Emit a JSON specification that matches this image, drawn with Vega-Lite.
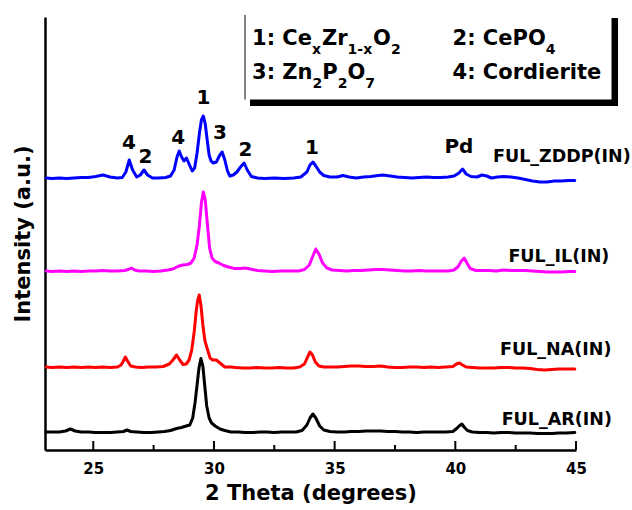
{
  "$schema": "https://vega.github.io/schema/vega-lite/v6.json",
  "width": 531,
  "height": 433,
  "autosize": "none",
  "padding": {"left": 45, "top": 17, "right": 56, "bottom": 60},
  "background": "white",
  "config": {"view": {"stroke": null}},
  "datasets": {
    "xrd": [
      {"s":"ZDDP","x":23.05,"y":272},{"s":"ZDDP","x":23.3,"y":271.5},{"s":"ZDDP","x":23.6,"y":272},{"s":"ZDDP","x":23.9,"y":271.5},{"s":"ZDDP","x":24.2,"y":272},{"s":"ZDDP","x":24.5,"y":272.5},{"s":"ZDDP","x":24.8,"y":272.5},{"s":"ZDDP","x":25.1,"y":273.5},{"s":"ZDDP","x":25.4,"y":275},{"s":"ZDDP","x":25.7,"y":273},{"s":"ZDDP","x":26.0,"y":272},{"s":"ZDDP","x":26.2,"y":272.5},{"s":"ZDDP","x":26.35,"y":278},{"s":"ZDDP","x":26.49,"y":290},{"s":"ZDDP","x":26.63,"y":280},{"s":"ZDDP","x":26.8,"y":273},{"s":"ZDDP","x":26.95,"y":275},{"s":"ZDDP","x":27.1,"y":280},{"s":"ZDDP","x":27.25,"y":275},{"s":"ZDDP","x":27.45,"y":272},{"s":"ZDDP","x":27.7,"y":272},{"s":"ZDDP","x":28.0,"y":272.5},{"s":"ZDDP","x":28.2,"y":274},{"s":"ZDDP","x":28.35,"y":280},{"s":"ZDDP","x":28.47,"y":293},{"s":"ZDDP","x":28.56,"y":299},{"s":"ZDDP","x":28.66,"y":293},{"s":"ZDDP","x":28.76,"y":289},{"s":"ZDDP","x":28.86,"y":292},{"s":"ZDDP","x":28.97,"y":286},{"s":"ZDDP","x":29.1,"y":279},{"s":"ZDDP","x":29.2,"y":282},{"s":"ZDDP","x":29.3,"y":297},{"s":"ZDDP","x":29.4,"y":317},{"s":"ZDDP","x":29.48,"y":330},{"s":"ZDDP","x":29.56,"y":334},{"s":"ZDDP","x":29.64,"y":326},{"s":"ZDDP","x":29.72,"y":310},{"s":"ZDDP","x":29.8,"y":295},{"s":"ZDDP","x":29.88,"y":289},{"s":"ZDDP","x":29.98,"y":287},{"s":"ZDDP","x":30.1,"y":288},{"s":"ZDDP","x":30.22,"y":294},{"s":"ZDDP","x":30.34,"y":298},{"s":"ZDDP","x":30.45,"y":290},{"s":"ZDDP","x":30.56,"y":279},{"s":"ZDDP","x":30.66,"y":274},{"s":"ZDDP","x":30.8,"y":275},{"s":"ZDDP","x":30.95,"y":278},{"s":"ZDDP","x":31.1,"y":283},{"s":"ZDDP","x":31.25,"y":287},{"s":"ZDDP","x":31.38,"y":280},{"s":"ZDDP","x":31.55,"y":273.5},{"s":"ZDDP","x":31.8,"y":272},{"s":"ZDDP","x":32.1,"y":271.5},{"s":"ZDDP","x":32.5,"y":272},{"s":"ZDDP","x":32.9,"y":271.5},{"s":"ZDDP","x":33.3,"y":272},{"s":"ZDDP","x":33.6,"y":273},{"s":"ZDDP","x":33.85,"y":278},{"s":"ZDDP","x":33.98,"y":285},{"s":"ZDDP","x":34.1,"y":288},{"s":"ZDDP","x":34.22,"y":284},{"s":"ZDDP","x":34.38,"y":278},{"s":"ZDDP","x":34.55,"y":274.5},{"s":"ZDDP","x":34.8,"y":273},{"s":"ZDDP","x":35.1,"y":273},{"s":"ZDDP","x":35.35,"y":274.5},{"s":"ZDDP","x":35.6,"y":273},{"s":"ZDDP","x":35.9,"y":272},{"s":"ZDDP","x":36.2,"y":273},{"s":"ZDDP","x":36.5,"y":273.5},{"s":"ZDDP","x":36.8,"y":274.5},{"s":"ZDDP","x":37.0,"y":275},{"s":"ZDDP","x":37.3,"y":274},{"s":"ZDDP","x":37.6,"y":273},{"s":"ZDDP","x":37.9,"y":272.5},{"s":"ZDDP","x":38.2,"y":272},{"s":"ZDDP","x":38.5,"y":272.5},{"s":"ZDDP","x":38.8,"y":273},{"s":"ZDDP","x":39.1,"y":272.5},{"s":"ZDDP","x":39.4,"y":272.5},{"s":"ZDDP","x":39.7,"y":273},{"s":"ZDDP","x":39.95,"y":274},{"s":"ZDDP","x":40.15,"y":277},{"s":"ZDDP","x":40.3,"y":281},{"s":"ZDDP","x":40.45,"y":276},{"s":"ZDDP","x":40.65,"y":273.5},{"s":"ZDDP","x":40.9,"y":273},{"s":"ZDDP","x":41.1,"y":275},{"s":"ZDDP","x":41.3,"y":274},{"s":"ZDDP","x":41.5,"y":272},{"s":"ZDDP","x":41.75,"y":273},{"s":"ZDDP","x":42.0,"y":273.5},{"s":"ZDDP","x":42.3,"y":273},{"s":"ZDDP","x":42.6,"y":272},{"s":"ZDDP","x":42.9,"y":270.5},{"s":"ZDDP","x":43.2,"y":269},{"s":"ZDDP","x":43.5,"y":268},{"s":"ZDDP","x":43.8,"y":268},{"s":"ZDDP","x":44.1,"y":269},{"s":"ZDDP","x":44.4,"y":269},{"s":"ZDDP","x":44.7,"y":269.5},{"s":"ZDDP","x":44.95,"y":269.5},

      {"s":"IL","x":23.05,"y":179},{"s":"IL","x":23.3,"y":178.5},{"s":"IL","x":23.6,"y":179},{"s":"IL","x":23.9,"y":178.5},{"s":"IL","x":24.2,"y":179},{"s":"IL","x":24.5,"y":178.5},{"s":"IL","x":24.8,"y":179},{"s":"IL","x":25.1,"y":179},{"s":"IL","x":25.4,"y":179.5},{"s":"IL","x":25.7,"y":179},{"s":"IL","x":26.0,"y":179},{"s":"IL","x":26.3,"y":179.5},{"s":"IL","x":26.45,"y":180.5},{"s":"IL","x":26.58,"y":182},{"s":"IL","x":26.72,"y":180},{"s":"IL","x":26.9,"y":179},{"s":"IL","x":27.2,"y":179},{"s":"IL","x":27.5,"y":178.5},{"s":"IL","x":27.8,"y":179},{"s":"IL","x":28.1,"y":180},{"s":"IL","x":28.3,"y":181},{"s":"IL","x":28.5,"y":183.5},{"s":"IL","x":28.7,"y":185},{"s":"IL","x":28.9,"y":185.5},{"s":"IL","x":29.05,"y":187},{"s":"IL","x":29.18,"y":192},{"s":"IL","x":29.3,"y":205},{"s":"IL","x":29.4,"y":225},{"s":"IL","x":29.48,"y":247},{"s":"IL","x":29.56,"y":258},{"s":"IL","x":29.64,"y":250},{"s":"IL","x":29.72,"y":228},{"s":"IL","x":29.82,"y":202},{"s":"IL","x":29.92,"y":192},{"s":"IL","x":30.05,"y":188.5},{"s":"IL","x":30.2,"y":187},{"s":"IL","x":30.4,"y":184.5},{"s":"IL","x":30.6,"y":183},{"s":"IL","x":30.85,"y":181.5},{"s":"IL","x":31.1,"y":181.5},{"s":"IL","x":31.3,"y":182},{"s":"IL","x":31.5,"y":181},{"s":"IL","x":31.8,"y":179.5},{"s":"IL","x":32.1,"y":179},{"s":"IL","x":32.4,"y":178.5},{"s":"IL","x":32.8,"y":179},{"s":"IL","x":33.2,"y":179},{"s":"IL","x":33.5,"y":179},{"s":"IL","x":33.75,"y":180.5},{"s":"IL","x":33.95,"y":185},{"s":"IL","x":34.1,"y":194},{"s":"IL","x":34.22,"y":201},{"s":"IL","x":34.35,"y":196},{"s":"IL","x":34.5,"y":187},{"s":"IL","x":34.68,"y":182},{"s":"IL","x":34.9,"y":180},{"s":"IL","x":35.2,"y":179.5},{"s":"IL","x":35.5,"y":179},{"s":"IL","x":35.8,"y":179.5},{"s":"IL","x":36.1,"y":179.5},{"s":"IL","x":36.4,"y":180},{"s":"IL","x":36.7,"y":180.5},{"s":"IL","x":37.0,"y":180.5},{"s":"IL","x":37.3,"y":180},{"s":"IL","x":37.6,"y":179.5},{"s":"IL","x":37.9,"y":179},{"s":"IL","x":38.2,"y":179},{"s":"IL","x":38.5,"y":179.5},{"s":"IL","x":38.8,"y":179},{"s":"IL","x":39.1,"y":179},{"s":"IL","x":39.4,"y":179},{"s":"IL","x":39.7,"y":179},{"s":"IL","x":39.95,"y":180},{"s":"IL","x":40.12,"y":183.5},{"s":"IL","x":40.25,"y":189},{"s":"IL","x":40.37,"y":192},{"s":"IL","x":40.48,"y":187},{"s":"IL","x":40.62,"y":181.5},{"s":"IL","x":40.85,"y":179.5},{"s":"IL","x":41.1,"y":179.5},{"s":"IL","x":41.4,"y":179.5},{"s":"IL","x":41.7,"y":179},{"s":"IL","x":42.0,"y":180},{"s":"IL","x":42.3,"y":179.5},{"s":"IL","x":42.6,"y":179.5},{"s":"IL","x":42.9,"y":179.5},{"s":"IL","x":43.2,"y":179},{"s":"IL","x":43.5,"y":178.5},{"s":"IL","x":43.8,"y":178},{"s":"IL","x":44.1,"y":178},{"s":"IL","x":44.4,"y":178},{"s":"IL","x":44.7,"y":178.5},{"s":"IL","x":44.95,"y":178.5},

      {"s":"NA","x":23.05,"y":83},{"s":"NA","x":23.3,"y":82.5},{"s":"NA","x":23.6,"y":83},{"s":"NA","x":23.9,"y":82.5},{"s":"NA","x":24.2,"y":83},{"s":"NA","x":24.5,"y":82.5},{"s":"NA","x":24.8,"y":83},{"s":"NA","x":25.1,"y":82.5},{"s":"NA","x":25.4,"y":83},{"s":"NA","x":25.7,"y":82.5},{"s":"NA","x":26.0,"y":83},{"s":"NA","x":26.15,"y":85},{"s":"NA","x":26.25,"y":89},{"s":"NA","x":26.33,"y":93},{"s":"NA","x":26.42,"y":89},{"s":"NA","x":26.55,"y":84},{"s":"NA","x":26.75,"y":83},{"s":"NA","x":27.0,"y":82.5},{"s":"NA","x":27.3,"y":83},{"s":"NA","x":27.6,"y":83},{"s":"NA","x":27.9,"y":83.5},{"s":"NA","x":28.15,"y":86},{"s":"NA","x":28.3,"y":90},{"s":"NA","x":28.45,"y":95},{"s":"NA","x":28.58,"y":90},{"s":"NA","x":28.72,"y":85.5},{"s":"NA","x":28.85,"y":86},{"s":"NA","x":28.97,"y":90},{"s":"NA","x":29.08,"y":100},{"s":"NA","x":29.18,"y":118},{"s":"NA","x":29.27,"y":140},{"s":"NA","x":29.33,"y":150},{"s":"NA","x":29.39,"y":155},{"s":"NA","x":29.46,"y":145},{"s":"NA","x":29.54,"y":125},{"s":"NA","x":29.62,"y":110},{"s":"NA","x":29.7,"y":103},{"s":"NA","x":29.84,"y":92},{"s":"NA","x":29.95,"y":90},{"s":"NA","x":30.1,"y":90},{"s":"NA","x":30.25,"y":87},{"s":"NA","x":30.45,"y":83},{"s":"NA","x":30.7,"y":83},{"s":"NA","x":30.9,"y":82.5},{"s":"NA","x":31.2,"y":82},{"s":"NA","x":31.5,"y":82},{"s":"NA","x":31.8,"y":82.5},{"s":"NA","x":32.1,"y":82},{"s":"NA","x":32.4,"y":82},{"s":"NA","x":32.7,"y":82.5},{"s":"NA","x":33.0,"y":82},{"s":"NA","x":33.3,"y":82},{"s":"NA","x":33.55,"y":83},{"s":"NA","x":33.75,"y":86},{"s":"NA","x":33.88,"y":93},{"s":"NA","x":33.98,"y":98},{"s":"NA","x":34.08,"y":95},{"s":"NA","x":34.2,"y":88},{"s":"NA","x":34.35,"y":84},{"s":"NA","x":34.55,"y":83},{"s":"NA","x":34.8,"y":83},{"s":"NA","x":35.1,"y":83},{"s":"NA","x":35.4,"y":83.5},{"s":"NA","x":35.7,"y":84},{"s":"NA","x":36.0,"y":84},{"s":"NA","x":36.3,"y":83.5},{"s":"NA","x":36.6,"y":83.5},{"s":"NA","x":36.9,"y":84},{"s":"NA","x":37.2,"y":83},{"s":"NA","x":37.5,"y":82.5},{"s":"NA","x":37.8,"y":82.5},{"s":"NA","x":38.1,"y":83},{"s":"NA","x":38.4,"y":83},{"s":"NA","x":38.7,"y":82.5},{"s":"NA","x":39.0,"y":83},{"s":"NA","x":39.3,"y":82.5},{"s":"NA","x":39.6,"y":83},{"s":"NA","x":39.9,"y":83.5},{"s":"NA","x":40.05,"y":86},{"s":"NA","x":40.17,"y":87},{"s":"NA","x":40.3,"y":85},{"s":"NA","x":40.45,"y":83},{"s":"NA","x":40.7,"y":82.5},{"s":"NA","x":41.0,"y":82},{"s":"NA","x":41.3,"y":82},{"s":"NA","x":41.6,"y":82},{"s":"NA","x":41.9,"y":82.5},{"s":"NA","x":42.2,"y":82.5},{"s":"NA","x":42.5,"y":82},{"s":"NA","x":42.8,"y":82},{"s":"NA","x":43.1,"y":81.5},{"s":"NA","x":43.4,"y":80.5},{"s":"NA","x":43.7,"y":80},{"s":"NA","x":44.0,"y":80.5},{"s":"NA","x":44.3,"y":81},{"s":"NA","x":44.6,"y":81},{"s":"NA","x":44.95,"y":81},

      {"s":"AR","x":23.05,"y":18},{"s":"AR","x":23.3,"y":18},{"s":"AR","x":23.6,"y":18},{"s":"AR","x":23.85,"y":19},{"s":"AR","x":24.05,"y":21},{"s":"AR","x":24.25,"y":19},{"s":"AR","x":24.5,"y":18},{"s":"AR","x":24.8,"y":18},{"s":"AR","x":25.1,"y":17.5},{"s":"AR","x":25.4,"y":17.5},{"s":"AR","x":25.7,"y":17.5},{"s":"AR","x":26.0,"y":18},{"s":"AR","x":26.25,"y":18.5},{"s":"AR","x":26.4,"y":20},{"s":"AR","x":26.55,"y":18.5},{"s":"AR","x":26.8,"y":18},{"s":"AR","x":27.1,"y":17.5},{"s":"AR","x":27.4,"y":17.5},{"s":"AR","x":27.7,"y":18},{"s":"AR","x":27.95,"y":18.5},{"s":"AR","x":28.2,"y":19.5},{"s":"AR","x":28.45,"y":21.5},{"s":"AR","x":28.65,"y":22.5},{"s":"AR","x":28.85,"y":24},{"s":"AR","x":29.0,"y":25},{"s":"AR","x":29.12,"y":32},{"s":"AR","x":29.22,"y":48},{"s":"AR","x":29.3,"y":65},{"s":"AR","x":29.38,"y":82},{"s":"AR","x":29.46,"y":91.5},{"s":"AR","x":29.54,"y":84},{"s":"AR","x":29.62,"y":64},{"s":"AR","x":29.7,"y":44},{"s":"AR","x":29.8,"y":32},{"s":"AR","x":29.9,"y":27},{"s":"AR","x":30.05,"y":24},{"s":"AR","x":30.25,"y":21},{"s":"AR","x":30.45,"y":19.5},{"s":"AR","x":30.7,"y":18},{"s":"AR","x":31.0,"y":18},{"s":"AR","x":31.3,"y":17.5},{"s":"AR","x":31.6,"y":17.5},{"s":"AR","x":31.9,"y":18},{"s":"AR","x":32.2,"y":18},{"s":"AR","x":32.5,"y":17.5},{"s":"AR","x":32.8,"y":18},{"s":"AR","x":33.1,"y":18},{"s":"AR","x":33.4,"y":18},{"s":"AR","x":33.65,"y":19.5},{"s":"AR","x":33.85,"y":25},{"s":"AR","x":33.98,"y":32},{"s":"AR","x":34.1,"y":36},{"s":"AR","x":34.22,"y":32},{"s":"AR","x":34.38,"y":24},{"s":"AR","x":34.55,"y":20},{"s":"AR","x":34.8,"y":18.5},{"s":"AR","x":35.1,"y":18},{"s":"AR","x":35.4,"y":18},{"s":"AR","x":35.7,"y":18.5},{"s":"AR","x":36.0,"y":18.5},{"s":"AR","x":36.3,"y":19},{"s":"AR","x":36.6,"y":19},{"s":"AR","x":36.9,"y":19},{"s":"AR","x":37.2,"y":18.5},{"s":"AR","x":37.5,"y":18.5},{"s":"AR","x":37.8,"y":18},{"s":"AR","x":38.1,"y":18},{"s":"AR","x":38.4,"y":17.5},{"s":"AR","x":38.7,"y":18},{"s":"AR","x":39.0,"y":18},{"s":"AR","x":39.3,"y":18},{"s":"AR","x":39.6,"y":18},{"s":"AR","x":39.9,"y":18.5},{"s":"AR","x":40.08,"y":22},{"s":"AR","x":40.18,"y":24.5},{"s":"AR","x":40.27,"y":26},{"s":"AR","x":40.38,"y":22.5},{"s":"AR","x":40.5,"y":19.5},{"s":"AR","x":40.7,"y":18},{"s":"AR","x":41.0,"y":17.5},{"s":"AR","x":41.3,"y":17.5},{"s":"AR","x":41.6,"y":17},{"s":"AR","x":41.9,"y":17.5},{"s":"AR","x":42.2,"y":17.5},{"s":"AR","x":42.5,"y":17},{"s":"AR","x":42.8,"y":17},{"s":"AR","x":43.1,"y":17},{"s":"AR","x":43.4,"y":16.5},{"s":"AR","x":43.7,"y":16.5},{"s":"AR","x":44.0,"y":16.5},{"s":"AR","x":44.3,"y":17},{"s":"AR","x":44.6,"y":17},{"s":"AR","x":44.95,"y":17.5}
    ],
    "peaks": [
      {"t":"4","x":26.48,"y":306.7},
      {"t":"2","x":27.16,"y":293.3},
      {"t":"4","x":28.52,"y":312.5},
      {"t":"1","x":29.56,"y":352.5},
      {"t":"3","x":30.25,"y":317},
      {"t":"2","x":31.3,"y":300.3},
      {"t":"1","x":34.06,"y":302.5},
      {"t":"Pd","x":40.15,"y":303.3}
    ],
    "names": [
      {"t":"FUL_ZDDP(IN)","x":41.56,"y":293},
      {"t":"FUL_IL(IN)","x":42.2,"y":192.7},
      {"t":"FUL_NA(IN)","x":41.85,"y":100},
      {"t":"FUL_AR(IN)","x":41.92,"y":30}
    ],
    "legend": [
      {"t":"1: Ce","x":31.577,"y":405,"k":"m"},
      {"t":"x","x":34.063,"y":396,"k":"s"},
      {"t":"Zr","x":34.477,"y":405,"k":"m"},
      {"t":"1-x","x":35.538,"y":396,"k":"s"},
      {"t":"O","x":36.594,"y":405,"k":"m"},
      {"t":"2","x":37.334,"y":396,"k":"s"},
      {"t":"3: Zn","x":31.577,"y":371,"k":"m"},
      {"t":"2","x":34.083,"y":362,"k":"s"},
      {"t":"P","x":34.487,"y":371,"k":"m"},
      {"t":"2","x":35.125,"y":362,"k":"s"},
      {"t":"O","x":35.528,"y":371,"k":"m"},
      {"t":"7","x":36.268,"y":362,"k":"s"},
      {"t":"2: CePO","x":39.884,"y":405,"k":"m"},
      {"t":"4","x":43.746,"y":396,"k":"s"},
      {"t":"4: Cordierite","x":39.884,"y":371,"k":"m"}
    ],
    "major": [{"x":25},{"x":30},{"x":35},{"x":40},{"x":45}],
    "minor": [{"x":27.5},{"x":32.5},{"x":37.5},{"x":42.5}]
  },
  "layer": [
    {
      "data": {"name": "xrd"},
      "mark": {"type": "line", "strokeWidth": 3, "strokeJoin": "round", "strokeCap": "round"},
      "encoding": {
        "x": {"field": "x", "type": "quantitative", "title": "2 Theta (degrees)", "scale": {"domain": [23, 45], "nice": false, "zero": false},
          "axis": {"values": [25, 30, 35, 40, 45], "ticks": false, "grid": false, "domainColor": "#000000", "domainWidth": 2.5,
            "labelFont": "DejaVu Sans", "labelFontWeight": "bold", "labelFontSize": 15, "labelColor": "#000000", "labelPadding": 11,
            "labelFlush": false, "labelOverlap": false, "labelBound": false,
            "title": "2 Theta (degrees)", "titleFont": "DejaVu Sans", "titleFontWeight": "bold", "titleFontSize": 21, "titleColor": "#000000", "titlePadding": 6}},
        "y": {"field": "y", "type": "quantitative", "title": "Intensity (a.u.)", "scale": {"domain": [0, 433], "nice": false, "zero": false},
          "axis": {"ticks": false, "labels": false, "grid": false, "domainColor": "#000000", "domainWidth": 2.5,
            "title": "Intensity (a.u.)", "titleFont": "DejaVu Sans", "titleFontWeight": "bold", "titleFontSize": 21, "titleColor": "#000000", "titlePadding": 12}},
        "color": {"field": "s", "type": "nominal", "scale": {"domain": ["ZDDP", "IL", "NA", "AR"], "range": ["#0000ff", "#ff00ff", "#ff0000", "#000000"]}, "legend": null},
        "detail": {"field": "s"}
      }
    },
    {
      "data": {"name": "major"},
      "mark": {"type": "rule", "color": "#000000", "strokeWidth": 2},
      "encoding": {
        "x": {"field": "x", "type": "quantitative"},
        "y": {"datum": 0, "type": "quantitative"},
        "y2": {"datum": 9}
      }
    },
    {
      "data": {"name": "minor"},
      "mark": {"type": "rule", "color": "#000000", "strokeWidth": 2},
      "encoding": {
        "x": {"field": "x", "type": "quantitative"},
        "y": {"datum": 0, "type": "quantitative"},
        "y2": {"datum": 5}
      }
    },
    {
      "data": {"values": [{}]},
      "mark": {"type": "rect", "color": "#000000"},
      "encoding": {
        "x": {"datum": 31.494, "type": "quantitative"},
        "x2": {"datum": 46.742},
        "y": {"datum": 432, "type": "quantitative"},
        "y2": {"datum": 344}
      }
    },
    {
      "data": {"values": [{}]},
      "mark": {"type": "rect", "color": "#ffffff"},
      "encoding": {
        "x": {"datum": 31.287, "type": "quantitative"},
        "x2": {"datum": 46.472},
        "y": {"datum": 435, "type": "quantitative"},
        "y2": {"datum": 350.5}
      }
    },
    {
      "data": {"values": [{}]},
      "mark": {"type": "rule", "color": "#555555", "strokeWidth": 1.5},
      "encoding": {
        "x": {"datum": 31.287, "type": "quantitative"},
        "y": {"datum": 435, "type": "quantitative"},
        "y2": {"datum": 350.5}
      }
    },
    {
      "data": {"name": "legend"},
      "transform": [{"filter": "datum.k === 'm'"}],
      "mark": {"type": "text", "font": "DejaVu Sans", "fontWeight": "bold", "fontSize": 21, "align": "left", "baseline": "alphabetic", "color": "#000000"},
      "encoding": {
        "x": {"field": "x", "type": "quantitative"},
        "y": {"field": "y", "type": "quantitative"},
        "text": {"field": "t"}
      }
    },
    {
      "data": {"name": "legend"},
      "transform": [{"filter": "datum.k === 's'"}],
      "mark": {"type": "text", "font": "DejaVu Sans", "fontWeight": "bold", "fontSize": 14, "align": "left", "baseline": "alphabetic", "color": "#000000"},
      "encoding": {
        "x": {"field": "x", "type": "quantitative"},
        "y": {"field": "y", "type": "quantitative"},
        "text": {"field": "t"}
      }
    },
    {
      "data": {"name": "peaks"},
      "mark": {"type": "text", "font": "DejaVu Sans", "fontWeight": "bold", "fontSize": 20, "align": "center", "baseline": "middle", "color": "#000000"},
      "encoding": {
        "x": {"field": "x", "type": "quantitative"},
        "y": {"field": "y", "type": "quantitative"},
        "text": {"field": "t"}
      }
    },
    {
      "data": {"name": "names"},
      "mark": {"type": "text", "font": "DejaVu Sans", "fontWeight": "bold", "fontSize": 17.5, "align": "left", "baseline": "middle", "color": "#000000"},
      "encoding": {
        "x": {"field": "x", "type": "quantitative"},
        "y": {"field": "y", "type": "quantitative"},
        "text": {"field": "t"}
      }
    }
  ]
}
